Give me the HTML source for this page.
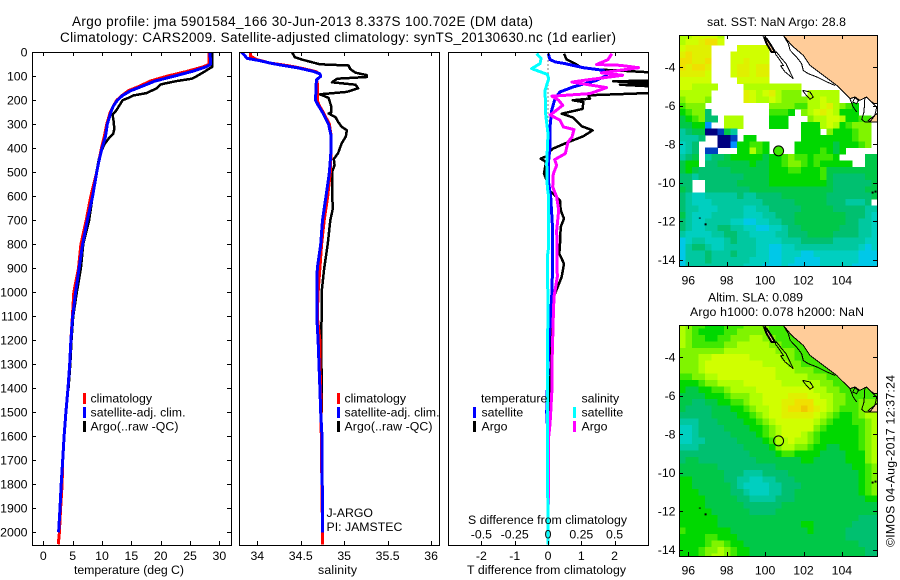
<!DOCTYPE html>
<html lang="en">
<head>
<meta charset="utf-8">
<title>Argo profile 5901584_166</title>
<style>
html,body{margin:0;padding:0;background:#fff;width:900px;height:580px;overflow:hidden}
svg{display:block}
text{font-family:"Liberation Sans",sans-serif;font-size:12.3px;fill:#000}
.title{font-size:13.5px}
</style>
</head>
<body>
<svg id="chart" xmlns="http://www.w3.org/2000/svg" width="900" height="580" viewBox="0 0 900 580">
  <defs>
    <clipPath id="clip-p1"><rect x="32" y="52" width="200" height="494"/></clipPath>
    <clipPath id="clip-p2"><rect x="239" y="52" width="201" height="494"/></clipPath>
    <clipPath id="clip-p3"><rect x="448" y="52" width="201" height="494"/></clipPath>
    <clipPath id="clip-m1"><rect x="679" y="35" width="199" height="232"/></clipPath>
    <clipPath id="clip-m2"><rect x="679" y="325" width="199" height="232"/></clipPath>
  </defs>
  <g id="layer-maps"></g>
  <g id="layer-series"></g>
  <g id="layer-axes"></g>

  <text class="title" x="72" y="26" textLength="461" lengthAdjust="spacing">Argo profile: jma 5901584_166 30-Jun-2013 8.337S 100.702E (DM data)</text>
  <text class="title" x="60" y="42" textLength="556" lengthAdjust="spacing">Climatology: CARS2009. Satellite-adjusted climatology: synTS_20130630.nc (1d earlier)</text>

  <text x="74" y="574" textLength="110" lengthAdjust="spacing">temperature (deg C)</text>
  <text x="318" y="574" textLength="39" lengthAdjust="spacing">salinity</text>
  <text x="467" y="574" textLength="159" lengthAdjust="spacing">T difference from climatology</text>
  <text x="468" y="524" textLength="159" lengthAdjust="spacing">S difference from climatology</text>

  <g>
    <rect x="83" y="393" width="3" height="11" fill="#ff0000"/>
    <text x="90.5" y="402.5">climatology</text>
    <rect x="83" y="407" width="3" height="11" fill="#0000ff"/>
    <text x="90.5" y="416.5" textLength="95" lengthAdjust="spacing">satellite-adj. clim.</text>
    <rect x="83" y="421" width="3" height="11" fill="#000"/>
    <text x="90.5" y="430.5" textLength="88" lengthAdjust="spacing">Argo(..raw -QC)</text>
  </g>
  <g>
    <rect x="337" y="393" width="3" height="11" fill="#ff0000"/>
    <text x="344.5" y="402.5">climatology</text>
    <rect x="337" y="407" width="3" height="11" fill="#0000ff"/>
    <text x="344.5" y="416.5" textLength="95" lengthAdjust="spacing">satellite-adj. clim.</text>
    <rect x="337" y="421" width="3" height="11" fill="#000"/>
    <text x="344.5" y="430.5" textLength="88" lengthAdjust="spacing">Argo(..raw -QC)</text>
  </g>
  <text x="326.5" y="517">J-ARGO</text>
  <text x="326.5" y="531">PI: JAMSTEC</text>

  <g>
    <text x="481" y="402.5">temperature</text>
    <rect x="473" y="407" width="3" height="11" fill="#0000ff"/>
    <text x="481.5" y="416.5">satellite</text>
    <rect x="473" y="421" width="3" height="11" fill="#000"/>
    <text x="481.5" y="430.5">Argo</text>
    <text x="581.5" y="402.5">salinity</text>
    <rect x="573" y="407" width="3" height="11" fill="#00ffff"/>
    <text x="581.5" y="416.5">satellite</text>
    <rect x="573" y="421" width="3" height="11" fill="#ff00ff"/>
    <text x="581.5" y="430.5">Argo</text>
  </g>

  <text x="707" y="26" textLength="139" lengthAdjust="spacing">sat. SST: NaN Argo: 28.8</text>
  <text x="708" y="301.5" textLength="95" lengthAdjust="spacing">Altim. SLA: 0.089</text>
  <text x="690" y="316" textLength="174" lengthAdjust="spacing">Argo h1000: 0.078 h2000: NaN</text>
  <text transform="translate(894.5 547) rotate(-90)" textLength="172" lengthAdjust="spacing">©IMOS 04-Aug-2017 12:37:24</text>
</svg>

<script>
const n = null;

const depthTicks = [0,100,200,300,400,500,600,700,800,900,1000,1100,1200,1300,1400,1500,1600,1700,1800,1900,2000];
const tempTicks = [0,5,10,15,20,25,30];
const salinityTicks = [34,34.5,35,35.5,36];
const salinityTickLabels = ['34','34.5','35','35.5','36'];
const tDiffTicks = [-2,-1,0,1,2];
const sDiffTicks = [-0.5,-0.25,0,0.25,0.5];
const sDiffTickLabels = ['-0.5','-0.25','0','0.25','0.5'];
const lonTicks = [96,98,100,102,104];
const latTicks = [-4,-6,-8,-10,-12,-14];

const climDepths = [0,50,60,80,100,120,140,160,180,200,225,250,300,350,400,450,500,600,700,800,900,1000,1100,1200,1300,1400,1500,1600,1700,1800,1900,2000,2050];
const climTemp = [28.2,28.2,27.3,24.4,21,18.2,16.5,14.5,13.4,12.5,11.9,11.4,10.8,10.4,9.9,9.5,9.1,8.1,7.3,6.4,6,5.2,4.95,4.7,4.5,4.2,3.85,3.55,3.3,3.2,2.95,2.75,2.55];
const satTempDepths = [0,50,60,80,100,120,140,160,180,200,225,250,300,350,400,450,500,600,700,800,900,1000,1100,1200,1300,1400,1500,1600,1700,1800,1900,2000];
const satTemp = [28.4,28.5,27.8,25.3,22.2,19,17,14.9,13.5,12.6,11.9,11.5,10.9,10.6,10,9.5,9.1,8.4,7.5,6.7,6.1,5.5,5,4.7,4.5,4.2,3.85,3.55,3.3,3.05,2.85,2.6];
const argoTempDepths = [0,50,60,80,100,110,120,130,135,150,170,180,190,200,220,240,260,290,320,340,360,380,400,440,480,520,600,700,800,900,1000,1100,1200,1300,1400];
const argoTemp = [28.8,28.8,28.8,27.5,26.1,25.3,22.7,20.7,19.9,19.3,17.6,15.3,14.5,13.5,13,12.5,11.8,12,12.1,11.9,11.1,10.5,10.1,9.5,9.2,8.9,8.4,7.8,6.8,6.4,5.7,5.1,4.8,4.6,4.3];

const climSalDepths = [0,15,30,45,55,65,80,90,100,115,130,150,200,220,250,300,350,400,500,600,700,800,900,1000,1100,1200,1300,1400,2000,2050];
const climSal = [33.92,33.92,33.99,34.15,34.34,34.49,34.67,34.72,34.73,34.68,34.69,34.69,34.69,34.71,34.76,34.83,34.85,34.85,34.84,34.81,34.77,34.74,34.72,34.7,34.69,34.72,34.72,34.73,34.75,34.75];
const satSalDepths = [0,15,25,35,45,55,65,80,90,100,115,200,220,250,300,350,400,500,600,700,800,900,1000,1100,1200,1300,1400,1500,1600,2000];
const satSal = [33.82,33.86,33.88,34.03,34.15,34.3,34.47,34.65,34.72,34.73,34.68,34.67,34.7,34.75,34.82,34.85,34.85,34.83,34.79,34.75,34.73,34.69,34.685,34.685,34.7,34.71,34.72,34.73,34.745,34.75];
const argoSalDepths = [0,20,30,50,55,70,85,95,103,110,125,135,150,165,175,190,225,250,255,270,290,310,325,350,380,420,445,470,500,590,650,700,800,900,1000,1100,1200,1350,1500];
const argoSal = [34.4,34.43,34.51,34.72,35.05,35.07,35.13,35.26,35.26,34.92,34.86,35.13,35.16,35.03,34.72,34.82,34.85,34.85,34.82,34.9,34.93,34.97,35.03,35.02,34.97,34.93,34.88,34.89,34.86,34.86,34.87,34.84,34.81,34.77,34.74,34.74,34.735,34.74,34.745];

const tDiffArgoDepths = [6,30,47,64,72,78,86,117,121,131,135,144,168,179,193,200,207,236,256,272,308,325,350,374,401,422,433,443,457,506,533,568,596,617,658,693,728,797,839,881,936,1006,1033,1100,1200,1300,1400,1500,2000];
const tDiffArgo = [0.48,0.56,0.81,1.01,1.56,2.36,3.36,3.36,1.96,3.4,2.16,3.4,3.4,1.21,1.26,0.74,1.06,1.04,0.41,0.76,1.01,1.34,1.06,0.61,0.16,-0.04,-0.04,-0.22,-0.06,-0.12,-0.04,-0.02,0.21,0.36,0.38,0.48,0.38,0.36,0.34,0.48,0.41,0.21,0.16,0.1,0.1,0.1,0.05,0.02,0];
const tDiffSatDepths = [6,30,40,47,64,75,96,117,144,165,193,242,311,394,464,533,603,742,881,1019,1200,1400,1500,1550,1700,2050];
const tDiffSat = [0.01,0.06,0.21,0.51,1.06,1.66,1.76,1.46,0.76,0.36,0.21,0.11,0.06,0.06,0.01,0.01,0.08,0.14,0.14,0.11,0.03,-0.02,-0.04,-0.02,0,0];
const sDiffArgoDepths = [6,31,51,54,64,86,96,117,124,147,172,183,200,221,256,261,283,311,322,353,374,422,447,471,506,561,603,658,742,936,1019,1100,1300,1400,1500,1550,1600,2050];
const sDiffArgo = [0.48,0.45,0.365,0.54,0.68,0.4,0.56,0.265,0.18,0.44,0.315,0.03,0.08,0.11,0.03,0.015,0.09,0.115,0.195,0.18,0.15,0.13,0.05,0.065,0.04,0.035,0.065,0.08,0.065,0.07,0.045,0.04,0.03,0.03,0.02,0.015,0.005,0];
const sDiffSatDepths = [6,26,47,68,92,110,158,256,339,408,464,561,603,811,853,922,1019,1400,1500,2050];
const sDiffSat = [-0.085,-0.052,-0.06,-0.122,-0.005,0.005,-0.022,-0.018,0,-0.005,-0.01,-0.005,0.005,0.005,-0.005,-0.005,0,-0.005,-0.005,0];

const sstLevels = [
[11,11,12,12,12,12,11,n,n,n,n,n,n,n,n,n,n,n,n,n,n,n,n,n,n,n,n,n,n,n,n],
[11,12,12,13,14,14,12,n,n,n,n,n,n,n,n,n,n,n,n,n,n,n,n,n,n,n,n,n,n,n,n],
[12,13,13,13,13,n,n,n,n,12,12,12,12,12,n,n,n,n,n,n,n,n,n,n,n,n,n,n,n,n,n],
[13,14,13,13,13,n,n,n,12,12,12,12,12,12,n,n,n,n,n,n,n,n,n,n,n,n,n,n,n,n,n],
[14,14,13,13,14,n,n,n,12,12,13,12,12,12,n,n,n,n,n,n,n,n,n,n,n,n,n,n,n,n,n],
[14,13,14,14,13,n,n,n,12,13,13,12,13,13,n,n,n,n,n,n,n,n,n,n,n,n,n,n,n,n,n],
[13,13,13,13,12,n,n,n,12,13,13,12,13,13,n,n,n,n,n,n,n,n,n,n,n,n,n,n,n,n,n],
[12,12,12,12,12,n,n,n,n,12,12,12,12,12,n,n,n,n,n,n,n,n,n,n,n,n,n,n,n,n,n],
[12,12,11,11,11,11,n,n,n,n,11,11,11,11,11,11,11,11,11,n,n,n,n,n,n,n,n,n,n,n,n],
[11,11,11,11,11,n,n,n,n,n,13,12,11,12,13,11,10,10,10,n,11,11,11,11,11,n,n,n,n,n,n],
[10,11,11,11,10,n,n,n,n,n,13,12,11,11,12,11,10,10,10,10,11,11,12,11,11,n,n,n,n,n,n],
[9,10,10,10,n,n,n,n,n,n,n,n,n,n,10,10,10,10,9,9,11,11,12,13,11,10,9,8,n,n,n],
[8,9,10,10,6,n,n,n,n,n,n,n,n,n,9,9,9,8,n,10,11,12,13,12,11,8,8,8,n,n,n],
[7,8,9,10,6,6,n,11,11,11,n,n,n,n,8,8,8,n,n,n,10,11,11,12,12,11,8,8,9,9,n],
[7,7,8,8,2,n,n,11,11,11,n,n,n,n,8,8,8,n,n,8,8,8,11,12,11,8,9,10,10,10,n],
[5,6,7,7,0,0,1,7,5,n,n,n,n,n,n,n,n,n,n,8,8,8,n,10,8,8,8,9,10,10,n],
[5,5,5,6,n,n,0,0,1,n,8,8,n,n,n,n,n,n,n,8,8,8,8,8,8,8,8,9,10,10,n],
[4,5,6,n,n,n,0,0,2,8,8,9,9,8,n,n,n,n,8,8,8,8,8,8,7,8,8,8,9,10,n],
[4,5,6,n,1,1,n,n,n,8,8,11,9,8,n,n,n,n,8,8,8,8,9,8,7,8,n,n,n,n,n],
[5,6,7,n,5,6,6,7,8,8,8,8,8,7,8,8,9,10,9,9,8,9,9,9,8,n,n,n,n,7,7],
[7,8,8,n,6,6,7,7,7,7,7,8,7,7,8,8,9,10,10,9,8,9,8,8,8,8,8,n,n,7,7],
[7,8,7,6,6,6,6,6,7,7,7,7,7,7,8,8,8,9,9,8,8,8,9,7,7,7,7,7,7,7,7],
[6,6,5,6,6,6,6,6,6,6,7,7,7,7,8,8,8,8,8,8,8,8,9,7,6,6,6,6,6,7,7],
[6,6,n,n,6,6,6,6,6,7,7,7,7,7,8,8,8,8,8,8,8,8,8,7,6,6,6,6,6,6,7],
[7,6,n,n,6,6,6,6,6,6,6,7,7,7,7,7,7,7,7,7,7,7,7,7,6,6,6,6,6,7,7],
[6,5,4,4,5,5,5,5,5,6,5,5,6,6,6,6,7,7,7,7,7,7,7,6,6,6,6,6,6,6,7],
[6,5,4,4,4,5,5,5,5,5,5,5,5,6,6,6,6,6,7,7,7,7,7,6,6,6,5,5,5,6,n],
[6,5,5,4,4,4,5,5,5,5,4,4,5,5,6,6,6,6,6,7,7,7,7,7,6,6,6,6,6,5,5],
[7,5,4,4,4,5,5,5,5,5,4,4,4,5,5,6,6,6,7,7,7,7,7,7,7,7,6,6,6,5,4],
[6,5,4,4,5,5,5,5,4,4,3,3,4,4,5,5,6,6,7,7,7,7,7,7,7,7,6,6,5,5,4],
[6,5,4,4,5,5,6,6,5,5,4,4,3,3,4,4,5,6,6,7,7,7,7,7,7,6,6,6,5,5,4],
[5,4,4,4,4,5,5,6,6,5,5,4,4,4,4,5,5,6,6,6,7,7,7,7,6,6,6,6,5,5,4],
[3,4,5,5,4,4,4,5,6,5,5,5,4,4,4,4,5,5,5,6,6,6,6,6,5,5,5,5,5,4,4],
[3,5,6,6,5,4,4,5,5,5,5,5,4,4,3,3,4,4,5,5,5,5,5,5,5,5,5,5,4,3,4],
[3,5,5,5,6,5,5,5,6,5,5,5,4,4,3,3,4,4,4,3,3,4,4,4,4,4,4,4,3,3,3],
[3,5,5,5,6,5,5,5,5,5,5,4,4,4,3,3,4,4,3,3,3,3,4,4,4,4,4,4,3,3,3],
[3,5,5,5,5,5,5,5,5,5,4,4,4,3,3,3,4,3,3,3,3,3,4,4,4,4,4,3,3,3,3]
];

const slaLevels = [
[11,10,9,9,8,8,8,9,9,9,10,10,10,10,9,9,9,9,8,8,8,8,8,8,8,8,8,8,8,8,8],
[11,10,9,8,8,8,8,9,9,10,10,10,10,10,9,9,9,9,9,8,8,8,8,8,8,8,8,8,8,8,8],
[11,10,9,9,8,8,9,9,10,10,10,11,11,10,10,9,9,9,9,9,8,8,8,8,8,8,8,8,8,8,8],
[11,10,9,9,9,9,9,10,10,11,11,11,11,11,10,10,9,9,9,9,9,8,8,8,8,8,8,8,8,8,8],
[10,10,10,10,10,10,10,11,11,11,11,11,11,11,11,10,10,10,9,9,9,9,8,8,8,8,8,8,8,8,8],
[10,10,10,11,11,12,12,12,12,12,12,11,11,11,11,11,10,10,9,9,9,9,9,8,8,8,8,8,8,8,8],
[10,10,10,11,12,12,12,12,12,12,12,12,12,11,11,11,11,10,10,9,9,9,9,9,8,8,8,8,8,8,8],
[10,10,10,11,12,12,12,12,12,12,12,12,12,12,12,11,11,11,10,10,10,9,9,9,9,8,8,8,8,8,8],
[9,9,10,10,11,11,12,12,12,12,12,12,12,12,12,11,11,11,11,11,10,10,10,9,9,9,8,8,8,8,8],
[8,8,8,9,10,10,11,11,11,11,12,12,12,12,12,12,11,11,11,11,11,11,10,10,9,9,9,8,8,9,9],
[8,7,7,8,8,9,9,10,11,11,11,11,12,12,12,12,12,12,12,12,12,11,11,10,10,9,9,9,9,9,9],
[7,7,7,7,8,8,8,9,10,10,10,11,11,12,12,12,12,13,13,13,12,12,11,11,10,10,9,9,9,9,9],
[7,7,6,6,7,7,8,8,9,9,10,11,11,12,12,12,13,13,14,14,14,12,12,11,10,10,9,9,10,10,10],
[7,6,6,6,6,7,7,7,8,8,9,10,11,11,12,12,13,14,14,15,14,13,12,11,10,9,9,9,10,10,10],
[6,6,6,6,6,7,7,7,7,8,8,9,10,11,12,12,13,13,13,13,13,12,11,10,9,8,8,9,10,11,11],
[5,5,5,6,6,6,7,7,7,7,8,8,9,10,11,12,12,12,12,12,12,11,10,9,8,8,8,9,9,10,11],
[4,4,5,6,6,6,6,7,7,7,7,8,8,9,10,11,12,12,12,12,12,10,9,8,8,8,8,8,9,10,11],
[4,4,5,6,6,6,6,6,7,7,7,7,8,9,10,11,12,12,12,11,10,9,8,8,8,8,8,8,9,10,11],
[4,4,5,5,6,6,6,6,6,7,7,7,7,8,9,11,11,12,11,11,10,9,8,8,8,8,8,8,9,10,11],
[5,5,5,6,6,6,6,6,6,6,7,7,7,7,8,10,11,11,10,10,9,8,8,7,7,8,8,8,9,10,11],
[6,6,6,6,6,6,6,6,6,6,6,7,7,7,7,8,9,9,8,8,8,8,7,7,7,7,8,8,8,10,11],
[6,7,7,6,6,6,6,6,6,6,6,6,7,7,7,7,7,7,7,8,8,7,7,7,7,7,8,8,8,10,11],
[7,7,7,7,7,7,6,6,6,6,6,6,6,6,6,7,7,7,7,7,7,7,7,7,7,7,7,8,8,9,10],
[7,7,7,7,7,7,7,6,6,6,5,5,5,6,6,6,6,7,7,7,7,7,7,7,7,7,7,7,8,9,10],
[8,8,7,7,7,7,7,6,6,5,5,4,4,5,5,6,6,6,7,7,7,7,7,7,7,7,7,7,8,9,10],
[8,8,7,7,7,7,7,7,6,5,4,4,4,4,5,5,6,6,6,7,7,7,7,7,7,7,7,7,8,9,10],
[8,8,8,7,7,7,7,7,6,6,5,4,4,4,5,5,6,6,7,7,7,7,7,7,7,7,7,7,8,9,10],
[8,8,8,8,7,7,7,7,7,6,6,5,5,5,5,6,6,6,7,7,7,7,7,7,7,7,7,7,7,8,8],
[8,8,8,8,7,7,7,7,7,7,6,6,6,6,6,6,7,7,7,7,7,7,7,7,7,7,7,7,7,7,7],
[8,8,8,8,8,7,7,7,7,7,7,6,6,6,6,7,7,7,7,7,7,7,7,7,7,7,7,7,7,7,7],
[8,8,8,8,8,8,7,7,7,7,7,7,7,7,7,7,7,7,7,7,7,7,7,7,7,7,7,7,6,6,6],
[8,8,8,8,8,8,7,7,7,7,7,7,7,7,7,7,7,7,7,8,8,7,7,7,7,7,7,6,6,6,6],
[9,8,8,8,8,8,8,8,7,7,7,7,7,7,7,7,7,7,7,7,8,7,7,7,7,7,6,6,6,6,6],
[8,8,8,8,9,9,8,8,8,7,7,7,7,7,7,7,7,7,7,7,7,7,7,7,7,7,6,6,6,6,6],
[8,8,8,8,9,10,10,9,8,8,7,7,7,7,7,7,7,7,7,7,7,7,7,7,7,7,7,7,6,6,6],
[8,8,8,9,10,10,11,10,9,8,8,7,7,7,7,7,7,7,7,7,7,7,7,7,7,7,7,7,7,6,6],
[8,8,8,9,10,11,11,10,9,8,8,7,7,7,7,7,7,7,7,7,7,7,7,7,7,7,7,7,7,6,6]
];

const floatLon = 100.702;
const floatLat = -8.337;
const floatSstLevel = 9;

const landLons = [100.95,101.38,101.99,102.34,103.03,103.73,104.42,104.68,104.94,105.29,105.55,105.72,105.91,105.91];
const landLats = [-2.34,-2.86,-3.38,-3.90,-4.42,-4.94,-5.63,-5.54,-5.71,-5.54,-5.80,-5.89,-5.89,-2.34];
const land2Lons = [105.38,105.72,105.91,105.91,105.46];
const land2Lats = [-6.75,-6.49,-6.32,-6.84,-6.84];
const shelfLons = [100.95,101.21,101.30,101.64,101.90,101.99,102.25,102.69,103.21,103.64];
const shelfLats = [-2.34,-2.77,-3.12,-3.47,-3.81,-4.16,-4.33,-4.50,-4.76,-4.94];
const island1Lons = [99.96,100.08,100.34,100.52,100.25,100.08,99.96];
const island1Lats = [-2.46,-2.77,-3.21,-3.21,-2.77,-2.51,-2.46];
const island2Lons = [100.52,100.78,100.95,100.81,101.04,101.47,101.26,101.09,100.86,100.60,100.52];
const island2Lats = [-3.29,-3.64,-3.90,-3.93,-4.24,-4.59,-4.16,-3.81,-3.55,-3.21,-3.29];
const island3Lons = [101.96,102.34,102.51,102.34,102.08,101.96];
const island3Lats = [-5.20,-5.28,-5.54,-5.66,-5.37,-5.20];
const reef1Lons = [104.42,104.59,104.77];
const reef1Lats = [-5.63,-6.06,-6.32];
const reef2Lons = [104.68,104.86,104.77,104.56,104.68];
const reef2Lats = [-5.58,-5.72,-5.89,-5.80,-5.58];
const reef3Lons = [105.20,105.15,105.03,105.20,105.46,105.72,105.81,105.55];
const reef3Lats = [-5.54,-6.32,-6.70,-6.84,-6.84,-6.49,-6.06,-5.80];
const cocosLons = [96.9,96.6,105.6,105.75];
const cocosLats = [-12.15,-11.85,-10.5,-10.45];

const levelColors = ['#000080','#0040c0','#0090ff','#00c8e8','#00cfc0','#00c8a0','#00c070','#00c848','#00d800','#40e800','#80f400','#b0ff00','#d0ff00','#e0f000','#f0e000','#f0c800'];

const SVGNS = 'http://www.w3.org/2000/svg';
const mapsLayer = document.getElementById('layer-maps');
const seriesLayer = document.getElementById('layer-series');
const axesLayer = document.getElementById('layer-axes');

function make(tag, parent, attrs) {
  const el = document.createElementNS(SVGNS, tag);
  for (const k in attrs) el.setAttribute(k, attrs[k]);
  parent.appendChild(el);
  return el;
}

const depthY = d => 52.3 + d * 0.24;
const tempX = v => 43.3 + v * 5.87;
const salX = v => 257.3 + (v - 34) * 86.9;
const tDiffX = v => 548 + v * 33.3;
const sDiffX = v => 548 + v * 133.2;
const lonX = lon => 688.3 + (lon - 96) * 19.2;
const latY = (lat, top) => top + 32 + (-4 - lat) * 19.27;

function profile(depths, values, xScale, color, clip, width) {
  const pts = depths.map((d, i) => xScale(values[i]).toFixed(1) + ',' + depthY(d).toFixed(1)).join(' ');
  return make('polyline', seriesLayer, {
    points: pts, fill: 'none', stroke: color, 'stroke-width': width,
    'stroke-linejoin': 'round', 'shape-rendering': 'crispEdges', 'clip-path': 'url(#' + clip + ')'
  });
}

function frame(x0, y0, x1, y1) {
  const el = make('rect', axesLayer, {
    x: x0 + 0.5, y: y0 + 0.5, width: x1 - x0, height: y1 - y0,
    fill: 'none', stroke: '#000', 'stroke-width': 1, 'shape-rendering': 'crispEdges'
  });
  
  
}

function tickLine(x1, y1, x2, y2) {
  const el = make('line', axesLayer, {
    x1: x1, y1: y1, x2: x2, y2: y2, stroke: '#000', 'stroke-width': 1, 'shape-rendering': 'crispEdges'
  });
  
  
}

function tickText(x, y, label, anchor) {
  const el = make('text', axesLayer, { x: x, y: y, 'text-anchor': anchor });
  el.textContent = label;
  
  
}

function xAxis(ticks, labels, scale, y0, y1, labelY) {
  ticks.forEach((t, i) => {
    const x = Math.round(scale(t)) + 0.5;
    tickLine(x, y0, x, y0 + 4);
    tickLine(x, y1, x, y1 - 4);
    if (labelY) tickText(scale(t), labelY, labels[i], 'middle');
  });
}

/* profile panel frames and axes */
frame(32, 52, 231, 545);
frame(239, 52, 439, 545);
frame(448, 52, 648, 545);
xAxis(tempTicks, tempTicks.map(String), tempX, 52, 545, 560);
xAxis(salinityTicks, salinityTickLabels, salX, 52, 545, 560);
xAxis(tDiffTicks, tDiffTicks.map(String), tDiffX, 52, 545, 560);
sDiffTicks.forEach((t, i) => tickText(sDiffX(t), 538.5, sDiffTickLabels[i], 'middle'));
depthTicks.forEach(d => {
  const y = Math.round(depthY(d)) + 0.5;
  tickLine(32, y, 36, y);
  tickLine(231, y, 227, y);
  tickText(27.5, depthY(d) + 4.2, String(d), 'end');
});

/* zero line of difference panel */
const zeroLine = make('line', seriesLayer, {
  x1: tDiffX(0), y1: depthY(0), x2: tDiffX(0), y2: depthY(2050),
  stroke: '#000', 'stroke-width': 1, 'stroke-dasharray': '1 3', 'shape-rendering': 'crispEdges'
});



/* temperature panel */
const tArgoLine = profile(argoTempDepths, argoTemp, tempX, '#000', 'clip-p1', 2.5);


const tClimLine = profile(climDepths, climTemp, tempX, '#ff0000', 'clip-p1', 3);


const tSatLine = profile(satTempDepths, satTemp, tempX, '#0000ff', 'clip-p1', 3);



/* salinity panel */
const sArgoLine = profile(argoSalDepths, argoSal, salX, '#000', 'clip-p2', 2.5);


const sClimLine = profile(climSalDepths, climSal, salX, '#ff0000', 'clip-p2', 3);


const sSatLine = profile(satSalDepths, satSal, salX, '#0000ff', 'clip-p2', 3);



/* difference panel */
const dtArgoLine = profile(tDiffArgoDepths, tDiffArgo, tDiffX, '#000', 'clip-p3', 2.5);


const dtSatLine = profile(tDiffSatDepths, tDiffSat, tDiffX, '#0000ff', 'clip-p3', 3);


const dsArgoLine = profile(sDiffArgoDepths, sDiffArgo, sDiffX, '#ff00ff', 'clip-p3', 3);


const dsSatLine = profile(sDiffSatDepths, sDiffSat, sDiffX, '#00ffff', 'clip-p3', 3);



/* maps */
function levelColor(v) {
  const i = Math.max(0, Math.min(levelColors.length - 1, Math.round(v)));
  return levelColors[i];
}

const gridLon0 = 95.53;
const gridLat0 = -2.173;
const gridStep = 1 / 3;

function drawCells(grid, top, clip) {
  const g = make('g', mapsLayer, { 'clip-path': 'url(#' + clip + ')', 'shape-rendering': 'crispEdges' });
  
  
  grid.forEach((row, j) => {
    row.forEach((v, i) => {
      if (v === null) return;
      const x0 = lonX(gridLon0 + i * gridStep);
      const x1 = lonX(gridLon0 + (i + 1) * gridStep);
      const y0 = latY(gridLat0 - j * gridStep, top);
      const y1 = latY(gridLat0 - (j + 1) * gridStep, top);
      const cell = make('rect', g, {
        x: x0.toFixed(2), y: y0.toFixed(2),
        width: (x1 - x0 + 0.4).toFixed(2), height: (y1 - y0 + 0.4).toFixed(2),
        fill: levelColor(v)
      });
      
      
    });
  });
}

function pathFrom(lons, lats, top, close) {
  return lons.map((lon, i) => (i ? 'L' : 'M') + lonX(lon).toFixed(1) + ' ' + latY(lats[i], top).toFixed(1)).join('') + (close ? 'Z' : '');
}

function coast(lons, lats, top, clip, fill, sw) {
  return make('path', mapsLayer, {
    d: pathFrom(lons, lats, top, fill !== 'none'),
    fill: fill, stroke: '#000', 'stroke-width': sw,
    'shape-rendering': 'crispEdges', 'clip-path': 'url(#' + clip + ')'
  });
}

function drawGeography(top, clip) {
  const land = coast(landLons, landLats, top, clip, '#ffcc99', 1);
  
  
  const land2 = coast(land2Lons, land2Lats, top, clip, '#ffcc99', 1);
  
  
  const shelf = coast(shelfLons, shelfLats, top, clip, 'none', 1);
  
  
  const isl1 = coast(island1Lons, island1Lats, top, clip, '#ffcc99', 2);
  
  
  const isl2 = coast(island2Lons, island2Lats, top, clip, 'none', 1);
  
  
  const isl3 = coast(island3Lons, island3Lats, top, clip, 'none', 1);
  
  
  const r1 = coast(reef1Lons, reef1Lats, top, clip, 'none', 1);
  
  
  const r2 = coast(reef2Lons, reef2Lats, top, clip, 'none', 1);
  
  
  const r3 = coast(reef3Lons, reef3Lats, top, clip, 'none', 1);
  
  
  cocosLons.forEach((lon, i) => {
    const dot = make('rect', mapsLayer, {
      x: lonX(lon) - 1, y: latY(cocosLats[i], top) - 1, width: 2, height: i === 1 ? 1 : 2, fill: '#000'
    });
    
    
  });
}

function drawMapAxes(top, bottom, labelY) {
  frame(679, top, 877, bottom);
  xAxis(lonTicks, lonTicks.map(String), lonX, top, bottom, labelY);
  const base = top + 0.3;
  latTicks.forEach(lat => {
    const y = Math.round(latY(lat, base)) + 0.5;
    tickLine(679, y, 683, y);
    tickLine(877, y, 873, y);
    tickText(675.5, latY(lat, base) + 4.2, String(lat), 'end');
  });
}

drawCells(sstLevels, 35.3, 'clip-m1');
drawGeography(35.3, 'clip-m1');
const floatTop = make('circle', mapsLayer, {
  cx: lonX(floatLon), cy: latY(floatLat, 35.3), r: 5, fill: levelColor(floatSstLevel), stroke: '#000', 'stroke-width': 1
});


drawMapAxes(35, 266, 284.5);

drawCells(slaLevels, 325.3, 'clip-m2');
drawGeography(325.3, 'clip-m2');
const floatBottom = make('circle', mapsLayer, {
  cx: lonX(floatLon), cy: latY(floatLat, 325.3), r: 5, fill: 'none', stroke: '#000', 'stroke-width': 1
});


drawMapAxes(325, 556, 574.5);
</script>
</body>
</html>
